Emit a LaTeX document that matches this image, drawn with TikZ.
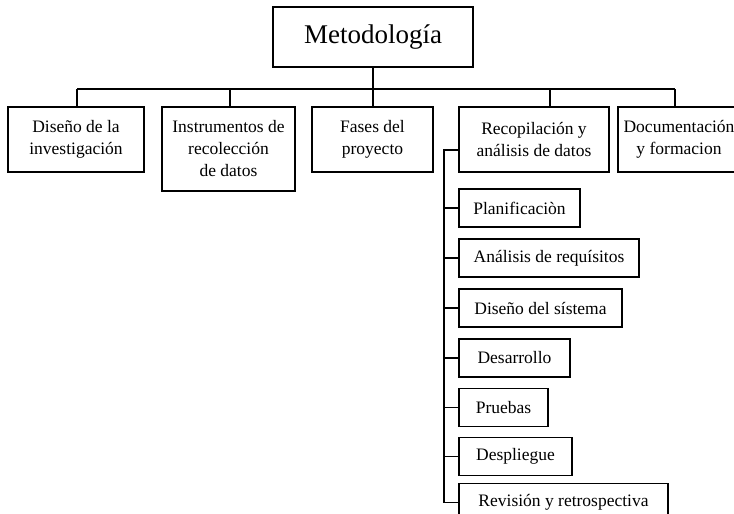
\documentclass[tikz,border=0pt]{standalone}
\usepackage{fontspec}
\setmainfont{Liberation Serif}
\begin{document}
\begin{tikzpicture}[x=1pt,y=-1pt,
  box/.style={draw, line width=1.6pt, inner sep=2pt, align=center,
    font=\fontsize{17.5}{22}\selectfont},
  conn/.style={line width=1.6pt}]
\clip (0,0) rectangle (734,514);
\fill[white] (0,0) rectangle (734,514);
% root
\node[box, minimum width=200pt, minimum height=60pt, font=\fontsize{27}{32}\selectfont] (met) at (373,37) {Metodología};
% first level
\node[box, minimum width=136pt, minimum height=65pt] (dis) at (76,139.5) {Diseño de la\\investigación};
\node[box, minimum width=133pt, minimum height=84pt] (ins) at (228.5,149) {Instrumentos de\\recolección\\de datos};
\node[box, minimum width=121pt, minimum height=65pt] (fas) at (372.5,139.5) {Fases del\\proyecto};
\node[box, minimum width=150pt, minimum height=65pt] (rec) at (534,139.5) {Recopilación y\\análisis de datos};
\node[box, minimum width=122pt, minimum height=65pt] (doc) at (679,139.5) {Documentación\\y formacion};
% second level
\node[box, minimum width=121pt, minimum height=38pt] (pla) at (519.5,208) {Planificaciòn};
\node[box, minimum width=180pt, minimum height=38pt] (ana) at (549,258) {Análisis de requísitos};
\node[box, minimum width=163pt, minimum height=38pt] (dsi) at (540.5,308) {Diseño del sístema};
\node[box, minimum width=111pt, minimum height=38pt] (des) at (514.5,358) {Desarrollo};
\node[box, minimum width=89pt, minimum height=38pt] (pru) at (503.5,407.5) {Pruebas};
\node[box, minimum width=113pt, minimum height=38pt] (dep) at (515.5,456.5) {Despliegue};
\node[box, minimum width=209pt, minimum height=38pt] (rev) at (563.5,502.5) {Revisión y retrospectiva};
% bus
\coordinate (busL) at (77,89);
\coordinate (busR) at (675,89);
\coordinate (d2) at (230,89);
\coordinate (d3) at (373,89);
\coordinate (d4) at (550,89);
\draw[conn] (busL) -- (busR);
\draw[conn] (met.south) -- (met.south |- busL);
\draw[conn] (busL) -- (busL |- dis.north);
\draw[conn] (d2) -- (d2 |- ins.north);
\draw[conn] (d3) -- (d3 |- fas.north);
\draw[conn] (d4) -- (d4 |- rec.north);
\draw[conn] (busR) -- (busR |- doc.north);
% spine
\coordinate (sp) at (444,150);
\draw[conn] (rec.west |- sp) -- (sp) -- (sp |- rev.west) -- (rev.west);
\foreach \n in {pla,ana,dsi,des,pru,dep}
  \draw[conn] (sp |- \n.west) -- (\n.west);
\end{tikzpicture}
\end{document}
